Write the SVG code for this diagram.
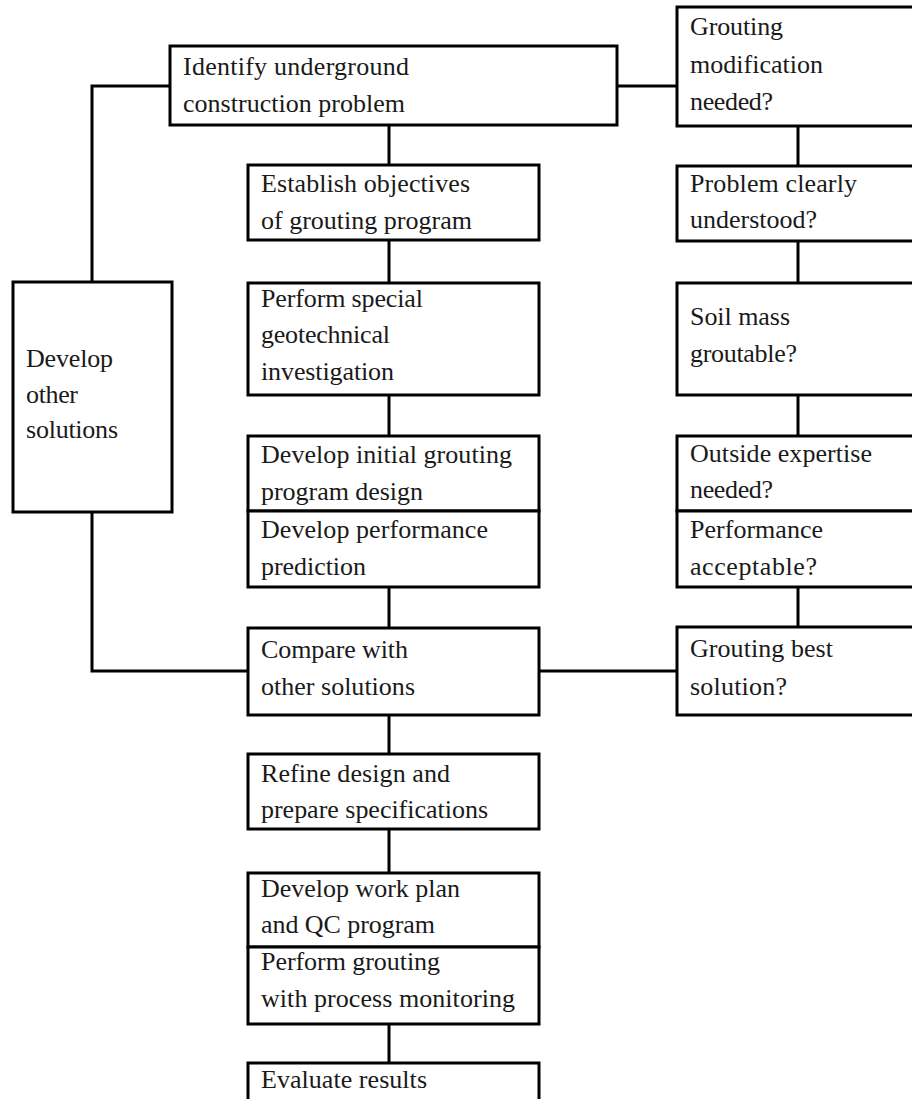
<svg xmlns="http://www.w3.org/2000/svg" width="912" height="1099" viewBox="0 0 912 1099">
<style>
.b{fill:#fff;stroke:#000;stroke-width:3}
.c{fill:none;stroke:#000;stroke-width:3}
text{font-family:"Liberation Serif","Times New Roman",serif;font-size:26px;fill:#1a1a1a}
</style>
<rect width="912" height="1099" fill="#fff"/>
<g id="connectors">
<polyline class="c" points="170,86 92,86 92,282"/>
<polyline class="c" points="92,512 92,671 248,671"/>
<line class="c" x1="617" y1="86" x2="677" y2="86"/>
<line class="c" x1="539" y1="671" x2="677" y2="671"/>
<line class="c" x1="389" y1="125" x2="389" y2="165"/>
<line class="c" x1="389" y1="240" x2="389" y2="283"/>
<line class="c" x1="389" y1="395" x2="389" y2="436"/>
<line class="c" x1="389" y1="587" x2="389" y2="628"/>
<line class="c" x1="389" y1="715" x2="389" y2="754"/>
<line class="c" x1="389" y1="829" x2="389" y2="873"/>
<line class="c" x1="389" y1="1024" x2="389" y2="1063"/>
<line class="c" x1="798" y1="126" x2="798" y2="166"/>
<line class="c" x1="798" y1="241" x2="798" y2="283"/>
<line class="c" x1="798" y1="395" x2="798" y2="436"/>
<line class="c" x1="798" y1="587" x2="798" y2="627"/>
</g>
<g id="identify"><rect class="b" x="170" y="46" width="447" height="79"/>
<text x="183" y="75" textLength="226">Identify underground</text>
<text x="183" y="112" textLength="222">construction problem</text></g>
<g id="establish"><rect class="b" x="248" y="165" width="291" height="75"/>
<text x="261" y="192" textLength="209">Establish objectives</text>
<text x="261" y="229" textLength="211">of grouting program</text></g>
<g id="perform-special"><rect class="b" x="248" y="283" width="291" height="112"/>
<text x="261" y="307" textLength="162">Perform special</text>
<text x="261" y="343" textLength="129">geotechnical</text>
<text x="261" y="380" textLength="133">investigation</text></g>
<g id="develop-initial"><rect class="b" x="248" y="436" width="291" height="75"/>
<text x="261" y="463" textLength="251">Develop initial grouting</text>
<text x="261" y="500" textLength="162">program design</text></g>
<g id="develop-performance"><rect class="b" x="248" y="511" width="291" height="76"/>
<text x="261" y="538" textLength="227">Develop performance</text>
<text x="261" y="575" textLength="105">prediction</text></g>
<g id="compare"><rect class="b" x="248" y="628" width="291" height="87"/>
<text x="261" y="658" textLength="147">Compare with</text>
<text x="261" y="695" textLength="154">other solutions</text></g>
<g id="refine"><rect class="b" x="248" y="754" width="291" height="75"/>
<text x="261" y="782" textLength="189">Refine design and</text>
<text x="261" y="818" textLength="227">prepare specifications</text></g>
<g id="work-plan"><rect class="b" x="248" y="873" width="291" height="74"/>
<text x="261" y="897" textLength="199">Develop work plan</text>
<text x="261" y="933" textLength="174">and QC program</text></g>
<g id="perform-grouting"><rect class="b" x="248" y="947" width="291" height="77"/>
<text x="261" y="970" textLength="179">Perform grouting</text>
<text x="261" y="1007" textLength="254">with process monitoring</text></g>
<g id="evaluate"><rect class="b" x="248" y="1063" width="291" height="60"/>
<text x="261" y="1088" textLength="166">Evaluate results</text></g>
<g id="develop-other"><rect class="b" x="13" y="282" width="159" height="230"/>
<text x="26" y="367" textLength="87">Develop</text>
<text x="26" y="403" textLength="52">other</text>
<text x="26" y="438" textLength="92">solutions</text></g>
<g id="grouting-modification"><rect class="b" x="677" y="7" width="260" height="119"/>
<text x="690" y="35" textLength="93">Grouting</text>
<text x="690" y="73" textLength="133">modification</text>
<text x="690" y="110" textLength="83">needed?</text></g>
<g id="problem-clearly"><rect class="b" x="677" y="166" width="260" height="75"/>
<text x="690" y="192" textLength="167">Problem clearly</text>
<text x="690" y="228" textLength="127">understood?</text></g>
<g id="soil-mass"><rect class="b" x="677" y="283" width="260" height="112"/>
<text x="690" y="325" textLength="100">Soil mass</text>
<text x="690" y="362" textLength="107">groutable?</text></g>
<g id="outside-expertise"><rect class="b" x="677" y="436" width="260" height="75"/>
<text x="690" y="462" textLength="182">Outside expertise</text>
<text x="690" y="498" textLength="83">needed?</text></g>
<g id="performance-acceptable"><rect class="b" x="677" y="511" width="260" height="76"/>
<text x="690" y="538" textLength="133">Performance</text>
<text x="690" y="575" textLength="127">acceptable?</text></g>
<g id="grouting-best"><rect class="b" x="677" y="627" width="260" height="88"/>
<text x="690" y="657" textLength="143">Grouting best</text>
<text x="690" y="695" textLength="97">solution?</text></g>
</svg>
